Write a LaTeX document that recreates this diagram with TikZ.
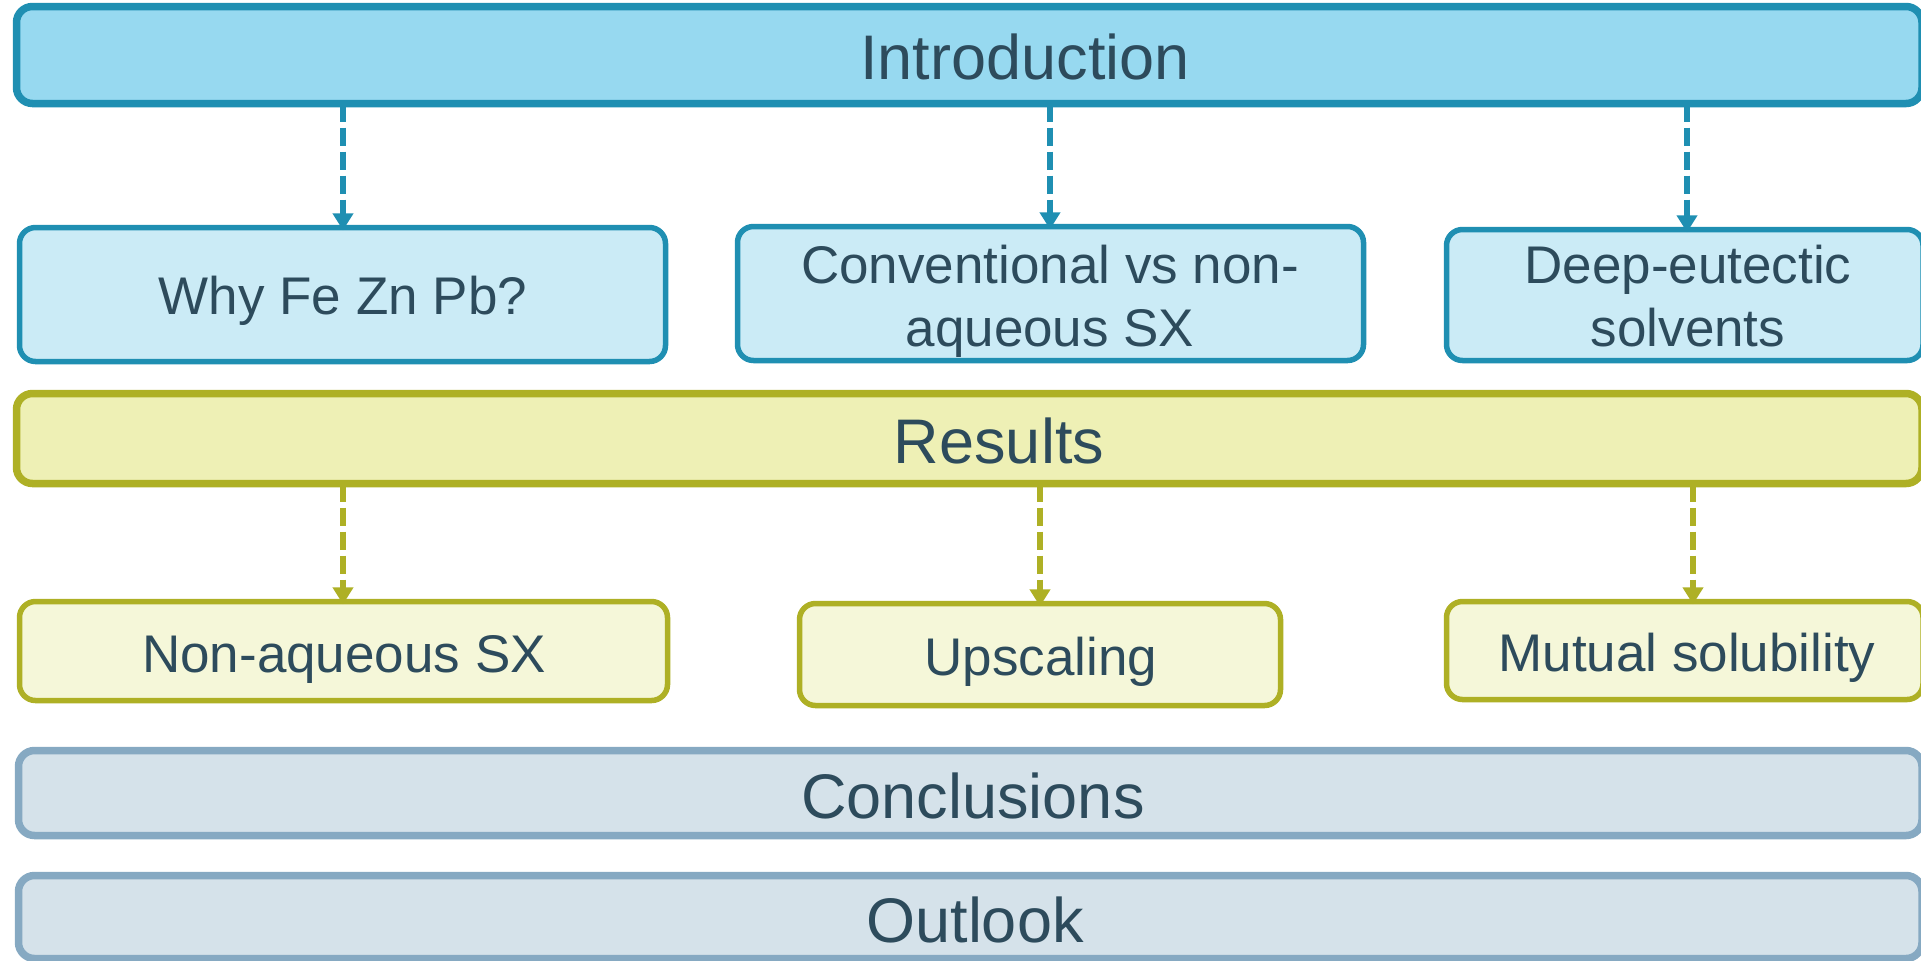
\documentclass[tikz,border=0pt]{standalone}
\usepackage{fontspec}
\setmainfont{Liberation Sans}
\usetikzlibrary{arrows.meta}
\definecolor{txt}{HTML}{2D4B5C}
\definecolor{introline}{HTML}{1F8FB2}
\definecolor{introfill}{HTML}{97D9F0}
\definecolor{introsub}{HTML}{CBEBF6}
\definecolor{resline}{HTML}{AEB025}
\definecolor{resfill}{HTML}{EEF0B5}
\definecolor{ressub}{HTML}{F5F7D9}
\definecolor{concline}{HTML}{86A9C2}
\definecolor{concfill}{HTML}{D5E2EA}
\tikzset{
  boxbase/.style={rectangle, rounded corners=8pt, inner sep=0pt, outer sep=0pt},
  introbig/.style={boxbase, draw=introline, fill=introfill, line width=3.75pt},
  introsmall/.style={boxbase, draw=introline, fill=introsub, line width=2.75pt},
  resbig/.style={boxbase, draw=resline, fill=resfill, line width=3.75pt},
  ressmall/.style={boxbase, draw=resline, fill=ressub, line width=2.75pt},
  concbig/.style={boxbase, draw=concline, fill=concfill, line width=3.75pt},
  biglbl/.style={text=txt, anchor=base, inner sep=0pt, font=\fontsize{31.5}{38}\selectfont},
  smalllbl/.style={text=txt, anchor=base, inner sep=0pt, align=center, font=\fontsize{26.5}{31.5}\selectfont},
  conn/.style={line width=3pt, dash pattern=on 9pt off 3pt, shorten >=-1.4pt, -{Triangle[width=10pt,length=8.5pt]}}
}
\begin{document}
\begin{tikzpicture}[x=0.5pt,y=-0.5pt]
\useasboundingbox (0,0) rectangle (1921,960);
% boxes
\node[introbig, minimum width=952.75pt, minimum height=48.5pt] (intro) at (969.25,55) {};
\node[introsmall, minimum width=323pt, minimum height=67pt] (why) at (342.5,294.5) {};
\node[introsmall, minimum width=313pt, minimum height=67pt] (conv) at (1050.5,293.5) {};
\node[introsmall, minimum width=238.25pt, minimum height=65.5pt] (deep) at (1684.75,295) {};
\node[resbig, minimum width=952.75pt, minimum height=45pt] (res) at (969.25,438.5) {};
\node[ressmall, minimum width=324pt, minimum height=49.5pt] (nonaq) at (343.5,651) {};
\node[ressmall, minimum width=240.5pt, minimum height=51pt] (ups) at (1040,654.5) {};
\node[ressmall, minimum width=238.25pt, minimum height=49pt] (mut) at (1684.75,650.5) {};
\node[concbig, minimum width=951.75pt, minimum height=42.5pt] (concl) at (970.25,793) {};
\node[concbig, minimum width=951.75pt, minimum height=41.5pt] (outl) at (970.25,917) {};
% labels
\node[biglbl] (tintro) at (1025,79) {Introduction};
\node[smalllbl] (twhy) at (343,314) {Why Fe Zn Pb?};
\node[smalllbl] (tconv) at (1050,346) {Conventional vs non-\\aqueous SX};
\node[smalllbl] (tdeep) at (1688,346) {Deep-eutectic\\solvents};
\node[biglbl] (tres) at (999,463) {Results};
\node[smalllbl] (tnonaq) at (344,672) {Non-aqueous SX};
\node[smalllbl] (tups) at (1041,675) {Upscaling};
\node[smalllbl] (tmut) at (1687,671) {Mutual solubility};
\node[biglbl] (tconcl) at (973,818) {Conclusions};
\node[biglbl] (toutl) at (975,942) {Outlook};
% connectors
\coordinate (c1) at (343,0);
\coordinate (c2) at (1050,0);
\coordinate (c3) at (1687,0);
\coordinate (c4) at (343,0);
\coordinate (c5) at (1040,0);
\coordinate (c6) at (1693,0);
\draw[conn, introline] (intro.south -| c1) -- (why.north -| c1);
\draw[conn, introline] (intro.south -| c2) -- (conv.north -| c2);
\draw[conn, introline] (intro.south -| c3) -- (deep.north -| c3);
\draw[conn, resline] (res.south -| c4) -- (nonaq.north -| c4);
\draw[conn, resline] (res.south -| c5) -- (ups.north -| c5);
\draw[conn, resline] (res.south -| c6) -- (mut.north -| c6);
\end{tikzpicture}
\end{document}
